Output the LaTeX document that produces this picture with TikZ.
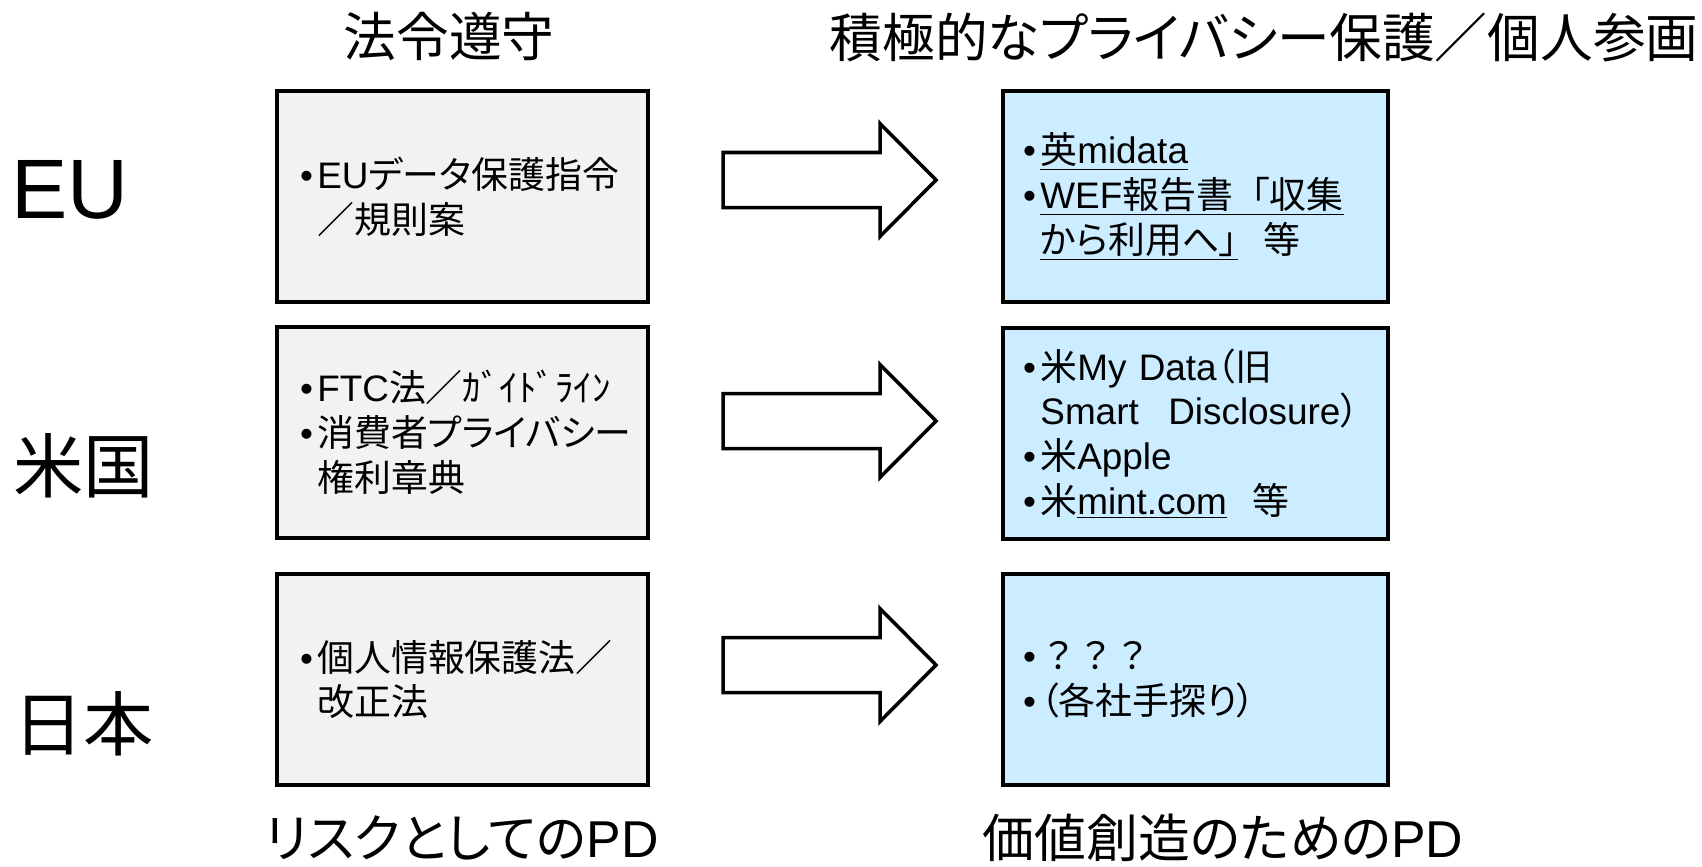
\documentclass[tikz,border=0pt]{standalone}
\usepackage{fontspec}
\setmainfont[RawFeature=+palt]{Noto Sans CJK JP}
\newfontfamily\fw{Noto Sans CJK JP}
\newfontfamily\lat{Liberation Sans}
\definecolor{lgray}{HTML}{F2F2F2}
\definecolor{lblue}{HTML}{CCECFF}
\newcommand\bl{\makebox[0.47em][l]{\lat •}}
\newcommand\ind{\hspace*{0.47em}}
\newcommand\boxfont{\fontsize{21}{25.5}\selectfont}
\tikzset{
  basebox/.style={draw=black, line width=2pt, minimum height=4.22cm, align=left, font=\boxfont},
  lbox/.style={basebox, fill=lgray, text width=6.5cm, inner xsep=0.46cm},
  rbox/.style={basebox, fill=lblue, text width=6.9cm, inner xsep=0.4cm},
  side/.style={anchor=west, font=\fontsize{40}{44}\selectfont, inner sep=0pt},
  head/.style={font=\fontsize{30}{34}\selectfont, inner sep=0pt},
  foot/.style={font=\fontsize{29.5}{34}\selectfont, inner sep=0pt},
  bigarrow/.style={draw=black, line width=2pt, fill=white, line join=miter}
}
\begin{document}
\begin{tikzpicture}[x=0.02cm,y=-0.02cm]
\useasboundingbox (0,0) rectangle (1702,866);
% headers
\node[head] (h1) at (449,37) {法令遵守};
\node[head] (h2) at (1264,37) {積極的なプライバシー保護／個人参画};
% side labels
\node[side, font=\fontsize{48}{50}\selectfont] (eu) at (11,190) {{\lat EU}};
\node[side] (us) at (13,466) {米国};
\node[side] (jp) at (13,724) {日本};
% boxes
\node[lbox] (l1) at (462.5,196.5) {\bl{}{\lat EU}データ保護指令\\\ind{}／規則案};
\node[lbox] (l2) at (462.5,432.5) {\bl{}{\lat FTC}法／ｶﾞｲﾄﾞﾗｲﾝ\\\bl{}消費者プライバシー\\\ind{}権利章典};
\node[lbox] (l3) at (462.5,679.5) {\bl{}個人情報保護法／\\\ind{}改正法};
\node[rbox] (r1) at (1195.5,196.5) {\bl{}\underline{英{\lat midata}}\\\bl{}\underline{{\lat WEF}報告書{\fw「}収集}\\\ind{}\underline{から利用へ」}\hspace{0.7em}等};
\node[rbox] (r2) at (1195.5,433.5) {\bl{}米{\lat My Data}（旧\\\ind{}{\lat Smart}\hspace{0.8em}{\lat Disclosure}）\\\bl{}米{\lat Apple}\\\bl{}米\underline{{\lat mint.com}}\hspace{0.7em}等};
\node[rbox] (r3) at (1195.5,679.5) {\bl{}{\fw ？？？}\\\bl{}（各社手探り）};
% arrows
\foreach \n/\yy in {1/180,2/421,3/665}{
  \coordinate (a\n) at (723,\yy);
  \draw[bigarrow] (a\n) ++(0,-27.5) -- ++(157,0) -- ++(0,-29) -- ++(56,56.5) -- ++(-56,56.5) -- ++(0,-29) -- ++(-157,0) -- cycle;
}
% bottom labels
\node[foot] (b1) at (462,838) {リスクとしての{\lat PD}};
\node[foot] (b2) at (1223,838) {価値創造のための{\lat PD}};
\end{tikzpicture}
\end{document}
